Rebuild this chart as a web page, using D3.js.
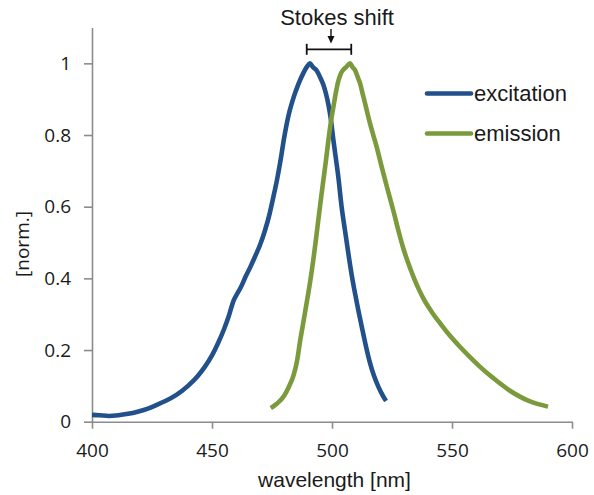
<!DOCTYPE html>
<html><head><meta charset="utf-8">
<script src="https://cdn.jsdelivr.net/npm/d3@7/dist/d3.min.js"></script>
<style>
html,body{margin:0;padding:0;background:#fff;}
svg{display:block;}
</style></head>
<body>
<svg id="chart" width="594" height="495"></svg>
<script>
const excWl = [400,403,407,411,415,419,423,427,431,435,440,444,447,450,452.5,455,457,459,460.5,462,464,466,468,470,472,474,475.5,477,478.5,480,482,484,486,488,489.5,490.8,492,493.6,495,496.4,497.5,498.5,499.5,500.5,501.5,502.6,504,505.5,506.8,508.2,509.6,511,512.4,514,515.8,517.5,519.3,521,522.5];
const excVal = [0.019,0.018,0.016,0.018,0.022,0.028,0.036,0.047,0.059,0.074,0.1,0.127,0.153,0.185,0.219,0.258,0.295,0.338,0.357,0.375,0.405,0.432,0.462,0.493,0.532,0.58,0.625,0.672,0.727,0.79,0.858,0.905,0.942,0.972,0.99,1.0,0.99,0.98,0.962,0.94,0.915,0.885,0.845,0.79,0.74,0.685,0.6,0.53,0.47,0.41,0.358,0.31,0.265,0.215,0.165,0.128,0.098,0.075,0.058];
const emWl = [474.5,477,480,482,484,485.5,486.7,488,489.4,491,492.2,493.3,494.3,495.4,496.4,497.5,498.5,499.5,500.6,501.6,502.6,503.6,504.7,506,507.5,508.5,509.6,510.7,511.7,512.7,513.8,514.8,515.8,517.2,518.6,520,521.4,523.5,525.6,527.6,529.7,531.8,533.9,536,538,541.5,545,549,553.3,557.5,561.7,566,570,574,578.3,582,586,590];
const emVal = [0.038,0.05,0.072,0.097,0.13,0.172,0.225,0.275,0.33,0.395,0.451,0.508,0.563,0.622,0.674,0.73,0.785,0.835,0.879,0.918,0.95,0.97,0.982,0.99,1.0,0.99,0.981,0.962,0.944,0.917,0.888,0.86,0.833,0.8,0.767,0.73,0.693,0.64,0.588,0.535,0.484,0.442,0.405,0.372,0.345,0.307,0.275,0.241,0.209,0.18,0.153,0.128,0.107,0.087,0.07,0.058,0.049,0.042];
const xTicks = [400,450,500,550,600];
const yTicks = [0,0.2,0.4,0.6,0.8,1];
const yTickLabels = ["0","0.2","0.4","0.6","0.8","1"];
const seriesNames = ["excitation","emission"];
const seriesColors = ["#22508b","#7a9a3c"];
const stokesPeaks = [490.3, 507.6];

const svg = d3.select("#chart");
const x = d3.scaleLinear().domain([400,600]).range([92,572]);
const y = d3.scaleLinear().domain([0,1.1]).range([421.7,27.5]);

const axisColor = "#8c8c8c";
const textColor = "#1a1a1a";

const yAxis = svg.append("g").attr("transform","translate(92,0)")
  .call(d3.axisLeft(y).tickValues(yTicks).tickFormat((d,i)=>yTickLabels[i]).tickSize(8).tickPadding(13).tickSizeOuter(0));
const xAxis = svg.append("g").attr("transform","translate(0,421.7)")
  .call(d3.axisBottom(x).tickValues(xTicks).tickFormat(d3.format("d")).tickSize(7).tickPadding(14.5).tickSizeOuter(0));
[yAxis,xAxis].forEach(g=>{
  g.select(".domain").attr("stroke",axisColor).attr("stroke-width",1.6);
  g.selectAll(".tick line").attr("stroke",axisColor).attr("stroke-width",1.6);
  g.selectAll(".tick text").attr("fill",textColor).style("font-family","'Open Sans', sans-serif").style("font-size","19px");
});

svg.append("text").attr("x",334.5).attr("y",487).attr("text-anchor","middle")
  .style("font-family","'Liberation Sans', Arial, sans-serif").style("font-size","21px").attr("fill",textColor)
  .text("wavelength [nm]");
svg.append("text").attr("transform","translate(29,244) rotate(-90)").attr("text-anchor","middle")
  .style("font-family","'Open Sans', sans-serif").style("font-size","19px").attr("fill",textColor)
  .text("[norm.]");

const line = d3.line().x(d=>x(d[0])).y(d=>y(d[1])).curve(d3.curveMonotoneX);
const series = [d3.zip(excWl,excVal), d3.zip(emWl,emVal)];
series.forEach((s,i)=>{
  svg.append("path").datum(s).attr("d",line).attr("fill","none")
    .attr("stroke",seriesColors[i]).attr("stroke-width",4.6).attr("stroke-linejoin","round").attr("stroke-linecap","butt");
});

// legend
const legY = [93.5,133.5];
seriesNames.forEach((n,i)=>{
  svg.append("line").attr("x1",427).attr("x2",471).attr("y1",legY[i]).attr("y2",legY[i])
    .attr("stroke",seriesColors[i]).attr("stroke-width",4.6).attr("stroke-linecap","round");
  svg.append("text").attr("x",474).attr("y",legY[i]+7.5).style("font-family","'Liberation Sans', Arial, sans-serif")
    .style("font-size","22px").attr("fill",textColor).text(n);
});

// Stokes shift annotation
const bx1 = x(stokesPeaks[0]) - 2, bx2 = x(stokesPeaks[1]) + 1, by = 49.3;
const ann = svg.append("g").attr("stroke","#111").attr("stroke-width",1.8).attr("fill","none");
ann.append("line").attr("x1",bx1).attr("x2",bx2).attr("y1",by).attr("y2",by);
ann.append("line").attr("x1",bx1).attr("x2",bx1).attr("y1",by-5.5).attr("y2",by+5.5);
ann.append("line").attr("x1",bx2).attr("x2",bx2).attr("y1",by-5.5).attr("y2",by+5.5);
const ax = 331;
ann.append("line").attr("x1",ax).attr("x2",ax).attr("y1",29).attr("y2",41).attr("stroke-width",1.4);
svg.append("path").attr("d",`M${ax-3.5},36 L${ax},43.5 L${ax+3.5},36 Z`).attr("fill","#111");
svg.append("text").attr("x",337).attr("y",25).attr("text-anchor","middle")
  .style("font-family","'Liberation Sans', Arial, sans-serif").style("font-size","22px").attr("fill",textColor)
  .text("Stokes shift");
</script>
</body></html>
